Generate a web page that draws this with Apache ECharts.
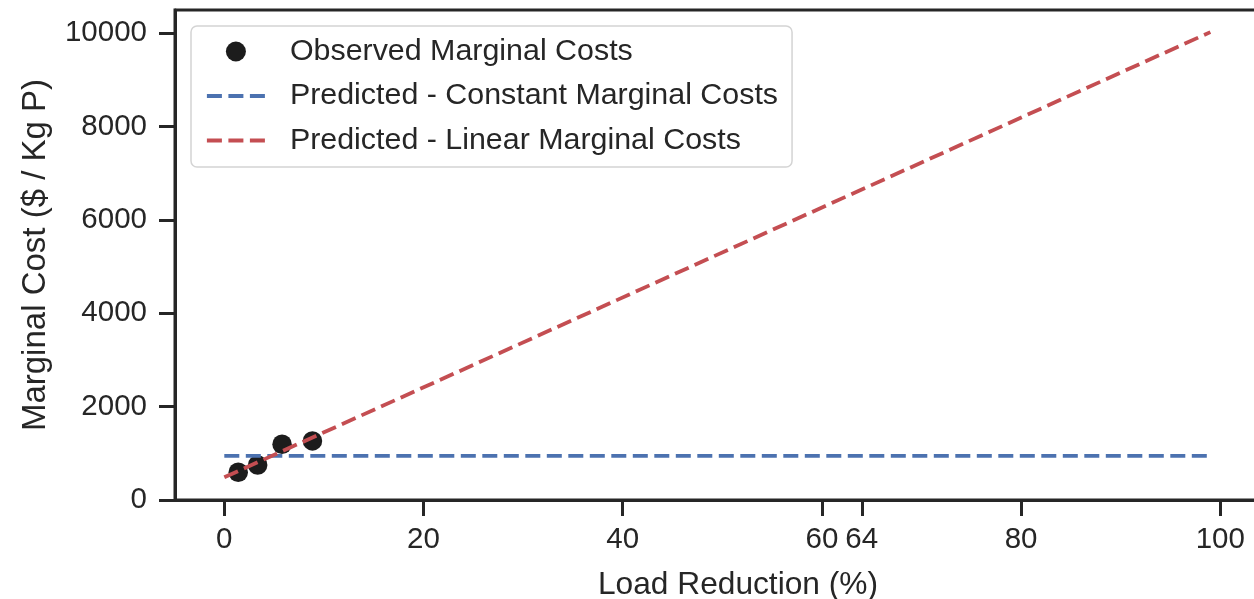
<!DOCTYPE html>
<html>
<head>
<meta charset="utf-8">
<script src="https://cdn.jsdelivr.net/npm/echarts@6/dist/echarts.min.js"></script>
<style>
  html, body { margin: 0; padding: 0; overflow: hidden; background: #ffffff; }
  #chart { width: 1320px; height: 599px; }
</style>
</head>
<body>
<div id="chart"></div>
<script>
// Observed marginal costs of phosphorus load reduction
const observedReduction = [1.4, 3.35, 5.8, 8.85];
const observedCost = [595, 750, 1195, 1265];

// Constant marginal cost model
const constantReduction = [0, 99];
const constantCost = [945, 945];

// Linear marginal cost model
const linearReduction = [0, 99];
const linearCost = [486, 10026];

// Axis ticks
const xTicks = [0, 20, 40, 60, 64, 80, 100];
const yTicks = [0, 2000, 4000, 6000, 8000, 10000];

const seriesNames = [
  'Observed Marginal Costs',
  'Predicted - Constant Marginal Costs',
  'Predicted - Linear Marginal Costs'
];

const ink = '#262626';
const font = "'Liberation Sans', Arial, sans-serif";
const dash = [15, 6.5];
const lineWidth = 3.8;

const zip = (xs, ys) => xs.map((x, i) => [x, ys[i]]);

const chart = echarts.init(document.getElementById('chart'), null, { renderer: 'canvas' });

chart.setOption({
  animation: false,
  backgroundColor: '#ffffff',
  textStyle: { fontFamily: font, color: ink },
  grid: {
    left: 175, top: 10, width: 1126, height: 490,
    outerBoundsMode: 'none',
    containLabel: false,
    show: true, borderColor: ink, borderWidth: 3, backgroundColor: 'transparent'
  },
  legend: {
    orient: 'vertical',
    left: 191, top: 26,
    padding: [10, 14, 11, 14],
    itemGap: 13.5,
    itemWidth: 58,
    itemHeight: 20,
    backgroundColor: '#ffffff',
    borderColor: '#d4d4d4',
    borderWidth: 1.5,
    borderRadius: 6,
    lineStyle: { width: lineWidth },
    textStyle: {
      fontFamily: font, fontSize: 30.4, color: ink,
      lineHeight: 31, padding: [0, 0, 0, 20]
    },
    data: [
      { name: seriesNames[0] },
      // dashed line only, no marker in the key
      { name: seriesNames[1], itemStyle: { opacity: 0 } },
      { name: seriesNames[2], itemStyle: { opacity: 0 } }
    ]
  },
  xAxis: {
    type: 'value',
    min: -4.95, max: 108.1,
    name: 'Load Reduction (%)',
    nameLocation: 'middle',
    nameGap: 69,
    nameTextStyle: { fontFamily: font, fontSize: 31.7, color: ink },
    axisLine: { show: true, onZero: false, lineStyle: { color: ink, width: 3 } },
    axisTick: { show: true, length: 16, lineStyle: { color: ink, width: 3 }, customValues: xTicks },
    axisLabel: {
      fontFamily: font, fontSize: 29.5, color: ink, margin: 25,
      customValues: xTicks, formatter: v => String(v)
    },
    splitLine: { show: false }
  },
  yAxis: {
    type: 'value',
    min: 0, max: 10500,
    name: 'Marginal Cost ($ / Kg P)',
    nameLocation: 'middle',
    nameGap: 123,
    nameRotate: 90,
    nameTextStyle: { fontFamily: font, fontSize: 33, color: ink },
    axisLine: { show: true, onZero: false, lineStyle: { color: ink, width: 3 } },
    axisTick: { show: true, length: 16, lineStyle: { color: ink, width: 3 }, customValues: yTicks },
    axisLabel: {
      fontFamily: font, fontSize: 29.5, color: ink, margin: 28,
      padding: [5, 0, 0, 0],
      customValues: yTicks, formatter: v => String(v)
    },
    splitLine: { show: false }
  },
  series: [
    {
      name: seriesNames[0],
      type: 'scatter',
      z: 1,
      symbol: 'circle',
      symbolSize: 19.5,
      itemStyle: { color: '#1c1c1c', opacity: 1 },
      data: zip(observedReduction, observedCost)
    },
    {
      name: seriesNames[1],
      type: 'line',
      z: 2,
      showSymbol: false,
      symbol: 'none',
      lineStyle: { color: '#4c72b0', width: lineWidth, type: dash, cap: 'butt' },
      itemStyle: { color: '#4c72b0' },
      data: zip(constantReduction, constantCost)
    },
    {
      name: seriesNames[2],
      type: 'line',
      z: 3,
      showSymbol: false,
      symbol: 'none',
      lineStyle: { color: '#c44e52', width: lineWidth, type: dash, cap: 'butt' },
      itemStyle: { color: '#c44e52' },
      data: zip(linearReduction, linearCost)
    }
  ]
});
</script>
</body>
</html>
